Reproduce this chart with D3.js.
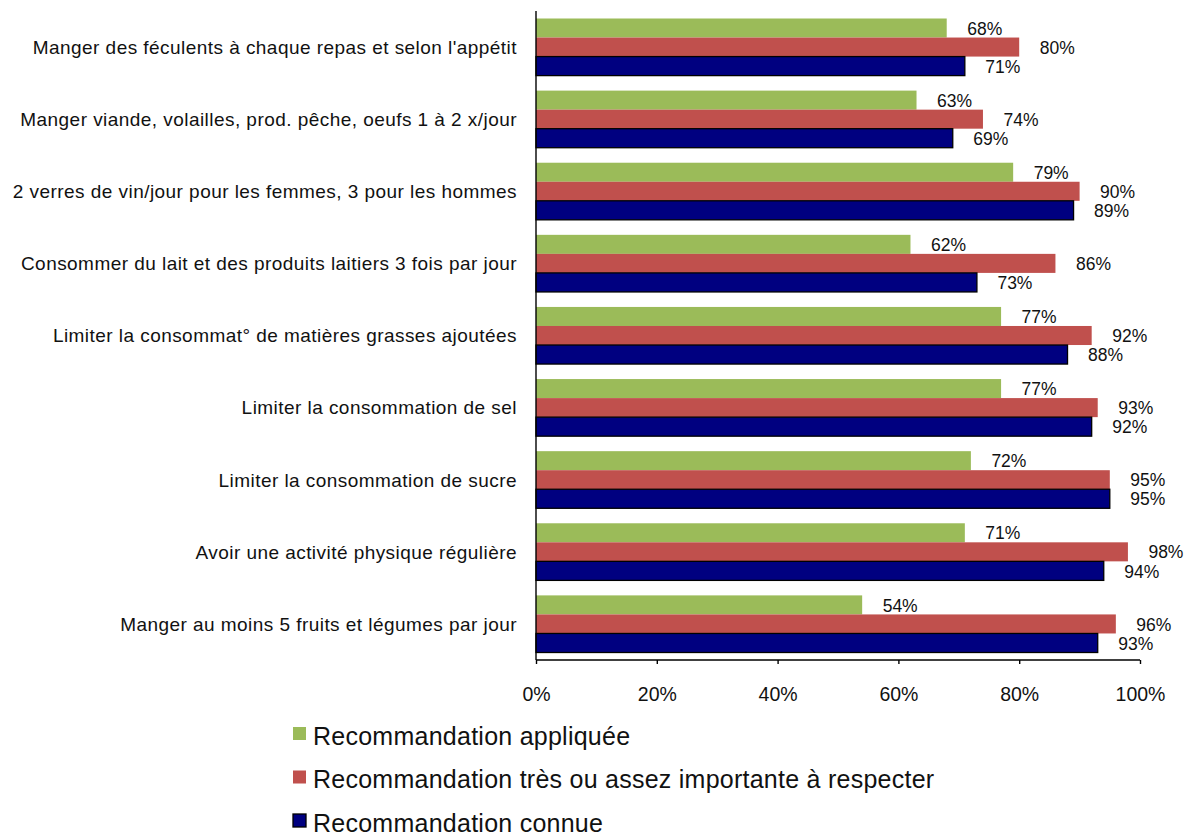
<!DOCTYPE html>
<html>
<head>
<meta charset="utf-8">
<script src="https://cdn.jsdelivr.net/npm/d3@7/dist/d3.min.js"></script>
<style>
  html, body { margin: 0; padding: 0; background: #fff; }
  svg { display: block; font-family: "Liberation Sans", Arial, sans-serif; }
</style>
</head>
<body>
<svg id="chart" width="1189" height="835"></svg>
<script>
// Recommandations nutritionnelles : connues, jugées importantes, appliquées (%)
const categories = [
  "Manger des féculents à chaque repas et selon l'appétit",
  "Manger viande, volailles, prod. pêche, oeufs 1 à 2 x/jour",
  "2 verres de vin/jour pour les femmes, 3 pour les hommes",
  "Consommer du lait et des produits laitiers 3 fois par jour",
  "Limiter la consommat° de matières grasses ajoutées",
  "Limiter la consommation de sel",
  "Limiter la consommation de sucre",
  "Avoir une activité physique régulière",
  "Manger au moins 5 fruits et légumes par jour"
];
const seriesNames = [
  "Recommandation appliquée",
  "Recommandation très ou assez importante à respecter",
  "Recommandation connue"
];
const appliquee  = [68, 63, 79, 62, 77, 77, 72, 71, 54];
const importante = [80, 74, 90, 86, 92, 93, 95, 98, 96];
const connue     = [71, 69, 89, 73, 88, 92, 95, 94, 93];
const xTicks = [0, 20, 40, 60, 80, 100];

const seriesValues = [appliquee, importante, connue];
const colors = ["#9BBB59", "#C0504D", "#000080"];

const svg = d3.select("#chart");
const plot = { left: 536, right: 1140, top: 11, bottom: 660 };

const x = d3.scaleLinear().domain([0, 100]).range([plot.left, plot.right]);
const y = d3.scaleBand().domain(categories).range([plot.top, plot.bottom])
  .paddingInner(0.208).paddingOuter(0.104);
const ySub = d3.scaleBand().domain(d3.range(3)).range([0, y.bandwidth()]);

// Bars, one group per category
const groups = svg.append("g").selectAll("g")
  .data(categories)
  .join("g")
  .attr("transform", d => `translate(0,${y(d)})`);

seriesValues.forEach((vals, s) => {
  groups.append("rect")
    .attr("x", x(0))
    .attr("y", ySub(s))
    .attr("width", (d, i) => x(vals[i]) - x(0))
    .attr("height", ySub.bandwidth())
    .attr("fill", colors[s])
    .attr("stroke", s === 2 ? "#000" : "none")
    .attr("stroke-width", s === 2 ? 1.3 : 0);

  groups.append("text")
    .attr("x", (d, i) => x(vals[i]) + 20.5)
    .attr("y", ySub(s) + ySub.bandwidth() / 2)
    .attr("dy", "0.38em")
    .attr("font-size", 17.5)
    .attr("fill", "#111")
    .text((d, i) => vals[i] + "%");
});

// Category labels
svg.append("g").selectAll("text")
  .data(categories)
  .join("text")
  .attr("x", plot.left - 19)
  .attr("y", d => y(d) + y.bandwidth() / 2)
  .attr("dy", "0.36em")
  .attr("text-anchor", "end")
  .attr("font-size", 19)
  .attr("letter-spacing", 0.45)
  .attr("fill", "#111")
  .text(d => d);

// Vertical axis line
svg.append("line")
  .attr("x1", plot.left).attr("x2", plot.left)
  .attr("y1", plot.top).attr("y2", plot.bottom)
  .attr("stroke", "#000").attr("stroke-width", 1.4);

// Horizontal percentage axis
const xAxis = d3.axisBottom(x)
  .tickValues(xTicks)
  .tickFormat(d => d + "%")
  .tickSize(4)
  .tickPadding(23);
const gx = svg.append("g")
  .attr("transform", `translate(0,${plot.bottom})`)
  .call(xAxis);
gx.select(".domain").attr("stroke", "#000").attr("stroke-width", 1.4)
  .attr("d", `M${plot.left},0H${plot.right}`);
gx.selectAll(".tick line").attr("stroke", "#000").attr("stroke-width", 1.4);
gx.selectAll(".tick text")
  .attr("font-size", 19.5)
  .attr("font-family", "Liberation Sans, Arial, sans-serif")
  .attr("fill", "#111");

// Legend
const legend = svg.append("g").selectAll("g")
  .data(seriesNames)
  .join("g")
  .attr("transform", (d, i) => `translate(293,${727 + i * 43.5})`);
legend.append("rect")
  .attr("width", 13).attr("height", 13)
  .attr("fill", (d, i) => colors[i])
  .attr("stroke", (d, i) => i === 2 ? "#000" : "none")
  .attr("stroke-width", 1.3);
legend.append("text")
  .attr("x", 20)
  .attr("y", 17.5)
  .attr("font-size", 25)
  .attr("letter-spacing", 0.25)
  .attr("fill", "#111")
  .text(d => d);
</script>
</body>
</html>
